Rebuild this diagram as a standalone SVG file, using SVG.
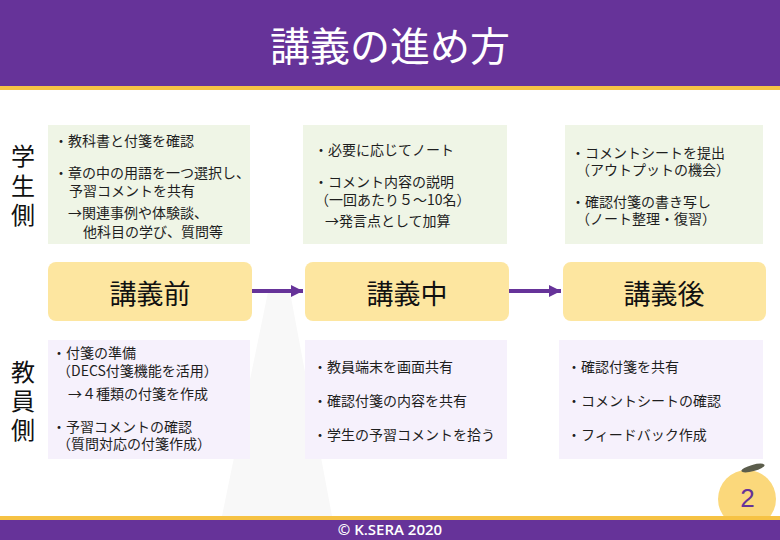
<svg xmlns="http://www.w3.org/2000/svg" width="780" height="540" viewBox="0 0 780 540">
<defs>
<style>
.jp{font-family:"Noto Sans CJK JP","Noto Sans CJK SC",sans-serif;}
.t{font-size:14px;fill:#1e1e1e;}
.side{font-size:24px;fill:#111;text-anchor:middle;}
.stage{font-size:27px;fill:#111;text-anchor:middle;}
.gbox{fill:#eff5e6;}
.pbox{fill:#f6f1fc;}
.ybox{fill:#fde6a0;}
.arrow{stroke:#663399;stroke-width:4;fill:none;}
</style>
<marker id="ah" markerWidth="12" markerHeight="12" viewBox="0 0 12 12" refX="12" refY="6" orient="auto" markerUnits="userSpaceOnUse">
<path d="M0,0 L12,6 L0,12 Z" fill="#663399"/>
</marker>
</defs>
<rect width="780" height="540" fill="#ffffff"/>
<polygon points="268,292 290,292 332,516 222,516" fill="#f8f8f8"/>
<g id="header">
<rect x="0" y="0" width="780" height="86" fill="#663399"/>
<rect x="0" y="86" width="780" height="4" fill="#f6c244"/>
<text class="jp" x="390" y="61" font-size="40" fill="#ffffff" text-anchor="middle">講義の進め方</text>
</g>
<g id="label-student">
<text class="jp side" x="23" y="165">学</text>
<text class="jp side" x="23" y="195">生</text>
<text class="jp side" x="23" y="224">側</text>
</g>
<g id="label-teacher">
<text class="jp side" x="23" y="381">教</text>
<text class="jp side" x="23" y="410">員</text>
<text class="jp side" x="23" y="439">側</text>
</g>
<g id="student-before">
<rect class="gbox" x="48" y="125" width="202" height="119"/>
<text class="jp t" x="54" y="146">・教科書と付箋を確認</text>
<text class="jp t" x="54" y="178">・章の中の用語を一つ選択し、</text>
<text class="jp t" x="69" y="196">予習コメントを共有</text>
<text class="jp t" x="68" y="218">→関連事例や体験談、</text>
<text class="jp t" x="83" y="237">他科目の学び、質問等</text>
</g>
<g id="student-during">
<rect class="gbox" x="303" y="125" width="204" height="119"/>
<text class="jp t" x="314" y="155">・必要に応じてノート</text>
<text class="jp t" x="314" y="187">・コメント内容の説明</text>
<text class="jp t" x="315" y="205">（一回あたり５〜10名）</text>
<text class="jp t" x="325" y="226">→発言点として加算</text>
</g>
<g id="student-after">
<rect class="gbox" x="565" y="125" width="198" height="119"/>
<text class="jp t" x="571" y="158">・コメントシートを提出</text>
<text class="jp t" x="576" y="175">（アウトプットの機会）</text>
<text class="jp t" x="571" y="207">・確認付箋の書き写し</text>
<text class="jp t" x="576" y="224">（ノート整理・復習）</text>
</g>
<g id="stage-before">
<rect class="ybox" x="48" y="262" width="204" height="59" rx="8"/>
<text class="jp stage" x="150" y="304">講義前</text>
</g>
<g id="stage-during">
<rect class="ybox" x="305" y="262" width="204" height="59" rx="8"/>
<text class="jp stage" x="407" y="304">講義中</text>
</g>
<g id="stage-after">
<rect class="ybox" x="563" y="262" width="203" height="59" rx="8"/>
<text class="jp stage" x="664" y="304">講義後</text>
</g>
<g id="connectors">
<line class="arrow" x1="252" y1="291" x2="303" y2="291" marker-end="url(#ah)"/>
<line class="arrow" x1="509" y1="291" x2="561" y2="291" marker-end="url(#ah)"/>
</g>
<g id="teacher-before">
<rect class="pbox" x="48" y="340" width="202" height="119"/>
<text class="jp t" x="52" y="358">・付箋の準備</text>
<text class="jp t" x="57" y="376">（DECS付箋機能を活用）</text>
<text class="jp t" x="68" y="399">→４種類の付箋を作成</text>
<text class="jp t" x="52" y="432">・予習コメントの確認</text>
<text class="jp t" x="57" y="449">（質問対応の付箋作成）</text>
</g>
<g id="teacher-during">
<rect class="pbox" x="305" y="340" width="202" height="119"/>
<text class="jp t" x="313" y="372">・教員端末を画面共有</text>
<text class="jp t" x="313" y="406">・確認付箋の内容を共有</text>
<text class="jp t" x="313" y="440">・学生の予習コメントを拾う</text>
</g>
<g id="teacher-after">
<rect class="pbox" x="559" y="340" width="204" height="119"/>
<text class="jp t" x="567" y="372">・確認付箋を共有</text>
<text class="jp t" x="567" y="406">・コメントシートの確認</text>
<text class="jp t" x="567" y="440">・フィードバック作成</text>
</g>
<g id="page-number">
<circle cx="747" cy="499" r="29" fill="#fbd87b"/>
<ellipse cx="753" cy="468" rx="12" ry="3.2" fill="#5b5d4c" transform="rotate(-15 753 468)"/>
<text x="747.5" y="507" font-family="Liberation Sans, Arial, sans-serif" font-size="26" fill="#663399" text-anchor="middle">2</text>
</g>
<g id="footer">
<rect x="0" y="516" width="780" height="4" fill="#f6c244"/>
<rect x="0" y="520" width="780" height="20" fill="#663399"/>
<text x="390" y="535" font-family="Open Sans, Liberation Sans, sans-serif" font-size="15" font-weight="600" fill="#ffffff" text-anchor="middle">© K.SERA 2020</text>
</g>
</svg>
